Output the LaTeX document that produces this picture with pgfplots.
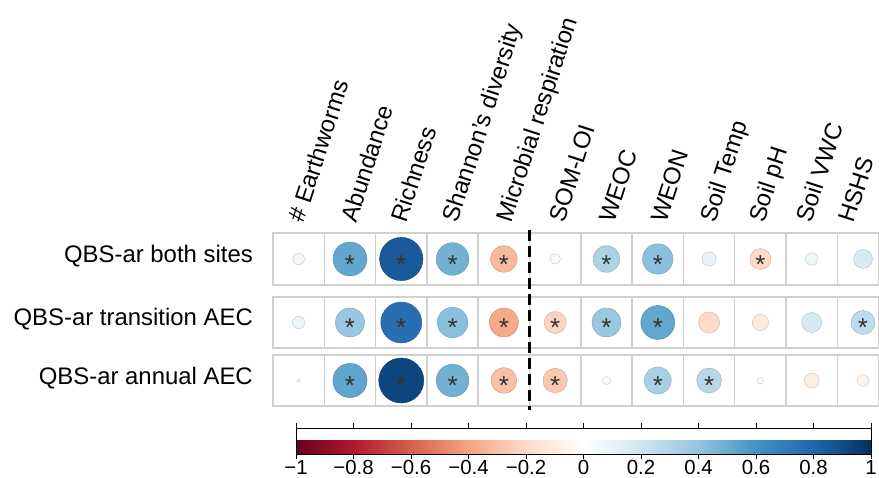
\documentclass[border=0pt]{standalone}
\usepackage{fontspec}
\setmainfont{Liberation Sans}
\usepackage{pgfplots}
\pgfplotsset{compat=1.18}
\usepackage{pgfplotstable}
\usetikzlibrary{calc}

% correlation values: x = column (1..12), y = row position, r = correlation
\pgfplotstableread{
x y r
1 -259 0.06
2 -259 0.52
3 -259 0.85
4 -259 0.48
5 -259 -0.32
6 -259 0.05
7 -259 0.32
8 -259 0.42
9 -259 0.09
10 -259 -0.20
11 -259 0.07
12 -259 0.16
1 -322.5 0.07
2 -322.5 0.38
3 -322.5 0.76
4 -322.5 0.42
5 -322.5 -0.38
6 -322.5 -0.22
7 -322.5 0.38
8 -322.5 0.52
9 -322.5 -0.20
10 -322.5 -0.12
11 -322.5 0.18
12 -322.5 0.26
1 -380.5 0.005
2 -380.5 0.53
3 -380.5 0.92
4 -380.5 0.48
5 -380.5 -0.30
6 -380.5 -0.27
7 -380.5 0.03
8 -380.5 0.33
9 -380.5 0.28
10 -380.5 0.02
11 -380.5 -0.10
12 -380.5 -0.06
}\corrdata

% significant cells (asterisks)
\pgfplotstableread{
x y
2 -259
3 -259
4 -259
5 -259
7 -259
8 -259
10 -259
2 -322.5
3 -322.5
4 -322.5
5 -322.5
6 -322.5
7 -322.5
8 -322.5
12 -322.5
2 -380.5
3 -380.5
4 -380.5
5 -380.5
6 -380.5
8 -380.5
9 -380.5
}\sigdata

\definecolor{gridgray}{HTML}{D0D0D0}
\definecolor{astgray}{HTML}{333333}

\begin{document}
\begin{tikzpicture}[x=1bp,y=1bp,
  collab/.style={anchor=base west, rotate=72, inner sep=0pt, font=\fontsize{24}{24}\selectfont},
  rowlab/.style={anchor=base east, inner sep=0pt, xshift=-20bp, font=\fontsize{24}{24}\selectfont}]
\useasboundingbox (0,0) rectangle (879,478);
\begin{axis}[
  at={(273bp,72bp)}, anchor=south west,
  scale only axis, width=605.9bp, height=173bp,
  xmin=0.5, xmax=12.31, ymin=-406, ymax=-233,
  enlargelimits=false,
  hide axis, clip=false,
  colormap={rdbu}{rgb255=(103,0,31) rgb255=(178,24,43) rgb255=(214,96,77)
    rgb255=(244,165,130) rgb255=(253,219,199) rgb255=(255,255,255)
    rgb255=(209,229,240) rgb255=(146,197,222) rgb255=(67,147,195)
    rgb255=(33,102,172) rgb255=(5,48,97)},
  point meta min=-1, point meta max=1,
  colorbar horizontal,
  colorbar style={
    at={($(parent axis.south west)+(23bp,-14bp)$)}, anchor=north west,
    scale only axis, width=575bp, height=26bp,
    xtick={-1,-0.8,-0.6,-0.4,-0.2,0,0.2,0.4,0.6,0.8,1},
    xticklabels={−1,−0.8,−0.6,−0.4,−0.2,0,0.2,0.4,0.6,0.8,1},
    xticklabel style={font=\fontsize{20.5}{20.5}\selectfont, text=black, yshift=3bp},
    tick align=outside, major tick length=5bp,
    every tick/.style={black, line width=0.8bp},
    axis line style={black, line width=1bp},
  },
]
% row boxes
\draw[gridgray, line width=1.5bp] (axis cs:0.5,-285) rectangle (axis cs:12.31,-233);
\draw[gridgray, line width=1.5bp] (axis cs:0.5,-348) rectangle (axis cs:12.31,-297);
\draw[gridgray, line width=1.5bp] (axis cs:0.5,-406) rectangle (axis cs:12.31,-355);
\pgfplotsinvokeforeach{1.5,2.5,...,11.5}{
  \draw[gridgray, line width=1.5bp] (axis cs:#1,-285) -- (axis cs:#1,-233);
  \draw[gridgray, line width=1.5bp] (axis cs:#1,-348) -- (axis cs:#1,-297);
  \draw[gridgray, line width=1.5bp] (axis cs:#1,-406) -- (axis cs:#1,-355);
}
% circles
\addplot[scatter, only marks, mark=*,
  point meta=\thisrow{r},
  visualization depends on={23.5*sqrt(abs(\thisrow{r})) \as \rad},
  scatter/@pre marker code/.append style={/tikz/mark size=\rad bp},
] table[x=x, y=y] {\corrdata};
% asterisks
\addplot[draw=none, mark=none,
  nodes near coords={*},
  nodes near coords style={anchor=center, yshift=-5.5bp, text=astgray, inner sep=0pt,
    font=\fontsize{26}{26}\selectfont},
] table[x=x, y=y] {\sigdata};
% dashed separator
\draw[black, line width=3bp, dash pattern=on 11bp off 5bp] (axis cs:5.5,-230) -- (axis cs:5.5,-410);
% row labels
\node[rowlab] at (axis cs:0.5,-263) {QBS-ar both sites};
\node[rowlab] at (axis cs:0.5,-326) {QBS-ar transition AEC};
\node[rowlab] at (axis cs:0.5,-385) {QBS-ar annual AEC};
% column labels
\node[collab] at (axis cs:1.1,-224) {\# Earthworms};
\node[collab] at (axis cs:2.12,-224) {Abundance};
\node[collab] at (axis cs:3.1,-224) {Richness};
\node[collab] at (axis cs:4.1,-224) {Shannon’s diversity};
\node[collab] at (axis cs:5.15,-224) {Microbial respiration};
\node[collab] at (axis cs:6.18,-224) {SOM-LOI};
\node[collab] at (axis cs:7.16,-224) {WEOC};
\node[collab] at (axis cs:8.16,-224) {WEON};
\node[collab] at (axis cs:9.12,-224) {Soil Temp};
\node[collab] at (axis cs:10.07,-224) {Soil pH};
\node[collab] at (axis cs:11.0,-224) {Soil VWC};
\node[collab] at (axis cs:11.82,-224) {HSHS};
\end{axis}
\end{tikzpicture}
\end{document}
